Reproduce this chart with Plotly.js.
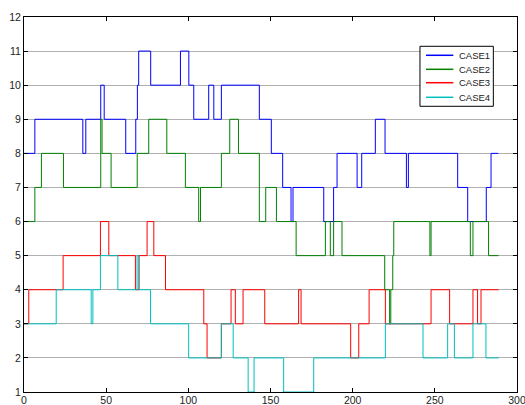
<!DOCTYPE html>
<html>
<head>
<meta charset="utf-8">
<script src="https://cdn.plot.ly/plotly-3.0.1.min.js"></script>
<style>html,body{margin:0;padding:0;background:#fff;}#chart{width:525px;height:405px;}</style>
</head>
<body>
<div id="chart"></div>
<script>
// Step series: x = position where the level changes, y = level from there on
const case1X = [0, 6.6, 35.8, 37.6, 46.7, 48.8, 61.9, 68.0, 69.0, 69.8, 77.1, 95.2, 100.3, 103.3, 112.4, 115.5, 120.1, 143.2, 150.5, 157.4, 162.5, 163.7, 182.4, 188.4, 190.5, 202.7, 205.5, 213.8, 219.7, 232.7, 233.9, 263.9, 270.0, 281.3, 284.2, 288.6];
const case1Y = [8, 9, 8, 9, 10, 9, 8, 9, 10, 11, 10, 11, 10, 9, 10, 9, 10, 9, 8, 7, 6, 7, 6, 7, 8, 7, 8, 9, 8, 7, 8, 7, 6, 7, 8, 8];

const case2X = [0, 6.6, 10.6, 24.0, 46.7, 47.5, 53.0, 68.9, 75.9, 86.9, 98.2, 106.3, 107.4, 120.1, 125.2, 130.5, 143.2, 147.1, 153.6, 165.6, 183.4, 186.4, 188.4, 193.5, 219.5, 222.5, 223.2, 224.4, 225.0, 247.0, 247.7, 271.6, 273.2, 282.7, 288.8];
const case2Y = [6, 7, 8, 7, 9, 8, 7, 8, 9, 8, 7, 6, 7, 8, 9, 8, 6, 7, 6, 5, 6, 5, 6, 5, 4, 3, 4, 5, 6, 5, 6, 5, 6, 5, 5];

const case3X = [0, 2.9, 23.8, 46.5, 51.6, 67.8, 70.0, 74.9, 79.0, 86.1, 109.4, 111.4, 120.1, 126.0, 128.6, 133.3, 146.5, 167.1, 168.6, 198.8, 203.7, 210.0, 219.9, 247.7, 259.0, 273.2, 276.0, 278.1, 288.8];
const case3Y = [3, 4, 5, 6, 5, 4, 5, 6, 5, 4, 3, 2, 3, 4, 3, 4, 3, 4, 3, 2, 3, 4, 3, 4, 3, 4, 3, 4, 4];

const case4X = [0, 19.6, 40.9, 41.9, 46.5, 57.1, 68.8, 70.0, 77.0, 100.2, 120.1, 127.3, 136.4, 140.0, 158.0, 176.3, 219.9, 242.8, 257.8, 261.9, 273.2, 281.1, 288.8];
const case4Y = [3, 4, 3, 4, 5, 4, 5, 4, 3, 2, 3, 2, 1, 2, 1, 2, 3, 2, 3, 2, 3, 2, 2];

const seriesNames = ['CASE1', 'CASE2', 'CASE3', 'CASE4'];
const seriesColors = ['#0000ff', '#008000', '#ff0000', '#00bfbf'];
const xTicks = [0, 50, 100, 150, 200, 250, 300];
const yTicks = [1, 2, 3, 4, 5, 6, 7, 8, 9, 10, 11, 12];

const xs = [case1X, case2X, case3X, case4X];
const ys = [case1Y, case2Y, case3Y, case4Y];

const traces = xs.map((x, i) => ({
  x: x, y: ys[i], name: seriesNames[i], type: 'scatter', mode: 'lines',
  line: {shape: 'hv', color: seriesColors[i], width: 1}
}));

const fontFam = 'Liberation Sans, Arial, sans-serif';
const axisCommon = {
  showline: true, linecolor: '#000', linewidth: 1, mirror: 'ticks',
  ticks: 'inside', ticklen: 4, tickcolor: '#000', tickwidth: 1,
  zeroline: false, ticklabeloverflow: 'allow',
  tickfont: {family: fontFam, size: 10.5, color: '#222'}
};

// Compact MATLAB-style legend box (paper coordinates)
const legBox = {x0: 0.8032, x1: 0.952, y0: 0.7619, y1: 0.9219};
const legRows = [0.8979, 0.8605, 0.8248, 0.7859];
const legLineX = [0.8154, 0.8708];
const legTextX = 0.8789;

const shapes = [{
  type: 'rect', xref: 'paper', yref: 'paper',
  x0: legBox.x0, x1: legBox.x1, y0: legBox.y0, y1: legBox.y1,
  line: {color: '#000', width: 1}, fillcolor: '#fff', layer: 'above'
}];
const annotations = [];
seriesNames.forEach((nm, i) => {
  shapes.push({
    type: 'line', xref: 'paper', yref: 'paper',
    x0: legLineX[0], x1: legLineX[1], y0: legRows[i], y1: legRows[i],
    line: {color: seriesColors[i], width: 1.5}, layer: 'above'
  });
  annotations.push({
    xref: 'paper', yref: 'paper', x: legTextX, y: legRows[i],
    xanchor: 'left', yanchor: 'middle', showarrow: false, text: nm,
    font: {family: fontFam, size: 9.5, color: '#222'}
  });
});

const layout = {
  width: 525, height: 405,
  margin: {l: 24, r: 8, t: 17, b: 13, pad: 0},
  paper_bgcolor: '#fff', plot_bgcolor: '#fff',
  showlegend: false,
  shapes: shapes,
  annotations: annotations,
  xaxis: Object.assign({}, axisCommon, {range: [0, 300], tickvals: xTicks, ticktext: xTicks.map(String), showgrid: false, ticklabelstandoff: -2}),
  yaxis: Object.assign({}, axisCommon, {range: [1, 12], tickvals: yTicks, ticktext: yTicks.map(String), showgrid: true, gridcolor: '#b0b0b0', gridwidth: 1})
};

Plotly.newPlot('chart', traces, layout, {displayModeBar: false, staticPlot: true});
</script>
</body>
</html>
